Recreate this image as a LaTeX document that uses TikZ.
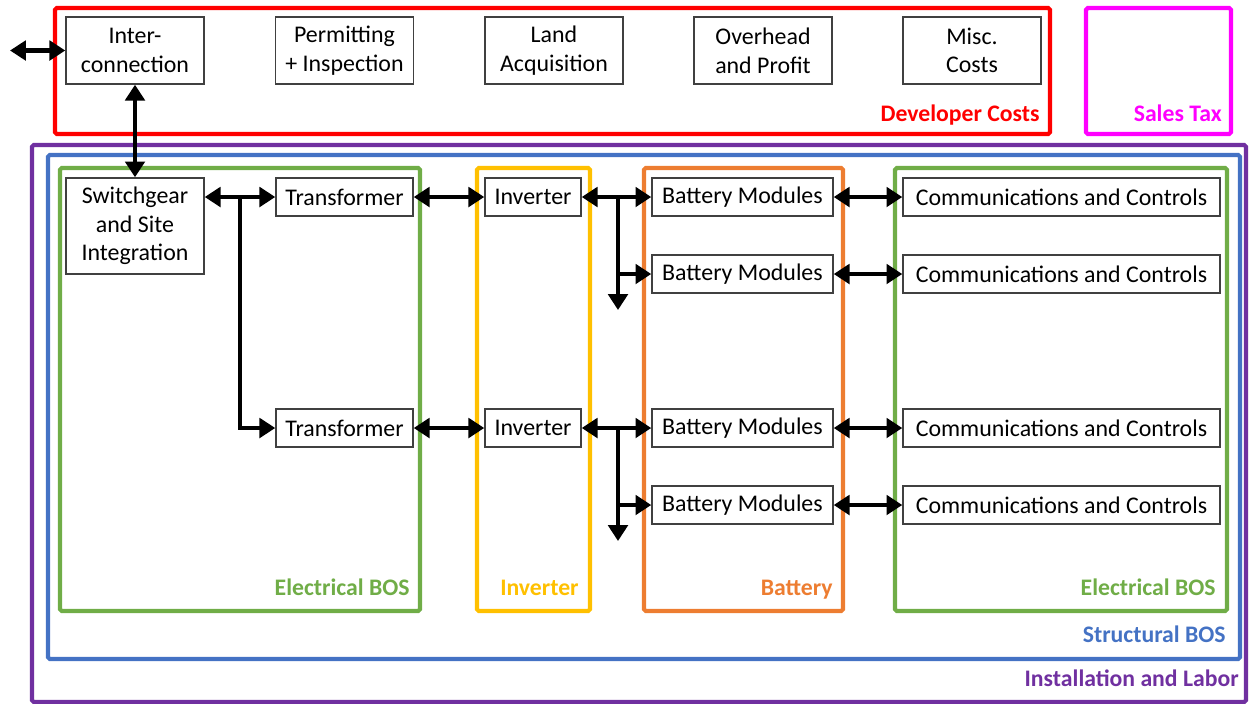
\documentclass[tikz,border=0pt]{standalone}
\usepackage{fontspec}
\setmainfont{Carlito}
\usetikzlibrary{arrows.meta}

\definecolor{devred}{HTML}{FF0000}
\definecolor{taxpink}{HTML}{FF00FF}
\definecolor{labpurple}{HTML}{7030A0}
\definecolor{strblue}{HTML}{4472C4}
\definecolor{elgreen}{HTML}{70AD47}
\definecolor{invyellow}{HTML}{FFC000}
\definecolor{batorange}{HTML}{ED7D31}

\tikzset{
  blk/.style={draw=black!75, line width=0.8pt, fill=white, inner sep=0pt,
    align=center, font=\fontsize{13.6}{16.3}\selectfont},
  topblk/.style={blk, minimum width=2.76cm, minimum height=1.34cm},
  frm/.style={line width=2.4pt, rounded corners=1pt},
  lbl/.style={font=\bfseries\fontsize{13.5}{15}\selectfont, anchor=base east, inner sep=0pt},
  link/.style={line width=2.4pt, {Triangle[length=9pt,width=11pt]}-{Triangle[length=9pt,width=11pt]}},
  feed/.style={line width=2.4pt, -{Triangle[length=9pt,width=11pt]}},
}

\begin{document}
\begin{tikzpicture}[x=0.02cm,y=-0.02cm]
\useasboundingbox (0,0) rectangle (1249,704);

% cost groups
\draw[frm, devred] (55,8) rectangle (1050,134);
\draw[frm, taxpink] (1086,8) rectangle (1231,134);
\draw[frm, labpurple] (32,145) rectangle (1246,702);
\draw[frm, strblue] (48,155) rectangle (1240,659);
\draw[frm, elgreen] (60,168) rectangle (420,611);
\draw[frm, invyellow] (477,168) rectangle (590,611);
\draw[frm, batorange] (644,168) rectangle (843,611);
\draw[frm, elgreen] (895,168) rectangle (1227,611);

\node[lbl, devred] (devlbl) at (1040,121) {Developer Costs};
\node[lbl, taxpink] (taxlbl) at (1222,121) {Sales Tax};
\node[lbl, elgreen] (elbl1) at (410,595) {Electrical BOS};
\node[lbl, invyellow] (invlbl) at (579,595) {Inverter};
\node[lbl, batorange] (batlbl) at (833,595) {Battery};
\node[lbl, elgreen] (elbl2) at (1216,595) {Electrical BOS};
\node[lbl, strblue] (strlbl) at (1226,642) {Structural BOS};
\node[lbl, labpurple] (lablbl) at (1239,686) {Installation and Labor};

% developer items
\node[topblk] (ic) at (135,50.5) {Inter-\\connection};
\node[topblk] (permit) at (344.5,50.5) {Permitting\\+ Inspection};
\node[topblk] (land) at (554,50.5) {Land\\Acquisition};
\node[topblk] (ovh) at (763,50.5) {Overhead\\and Profit};
\node[topblk] (misc) at (972,50.5) {Misc.\\Costs};

% equipment
\node[blk, minimum width=2.76cm, minimum height=1.92cm] (sg) at (135,226) {Switchgear\\and Site\\Integration};
\node[blk, minimum width=2.74cm, minimum height=0.76cm] (tr1) at (344.5,197) {Transformer};
\node[blk, minimum width=2.74cm, minimum height=0.76cm] (tr2) at (344.5,428) {Transformer};
\node[blk, minimum width=1.92cm, minimum height=0.76cm] (inv1) at (533,197) {Inverter};
\node[blk, minimum width=1.92cm, minimum height=0.76cm] (inv2) at (533,428) {Inverter};
\foreach \i/\y in {1/197,2/274,3/428,4/505}{
  \node[blk, minimum width=3.62cm, minimum height=0.76cm] (bm\i) at (742.5,\y) {Battery Modules};
  \node[blk, minimum width=6.34cm, minimum height=0.76cm] (cc\i) at (1061.5,\y) {Communications and Controls};
}

% connections
\coordinate (grid) at (10,50.5);
\coordinate (j1) at (240,197);
\coordinate (j2) at (618,197);
\coordinate (j3) at (618,428);
\coordinate (e1) at (618,310);
\coordinate (e2) at (618,541);

\draw[link] (grid) -- (ic.west);
\draw[link] (ic.south) -- (sg.north);
\draw[link] (sg.east |- tr1) -- (tr1.west);
\draw[feed] (j1) |- (tr2.west);
\draw[link] (tr1) -- (inv1);
\draw[link] (tr2) -- (inv2);
\draw[link] (inv1) -- (bm1);
\draw[link] (inv2) -- (bm3);
\draw[feed] (j2) -- (e1);
\draw[feed] (j3) -- (e2);
\draw[feed] (j2 |- bm2) -- (bm2.west);
\draw[feed] (j3 |- bm4) -- (bm4.west);
\foreach \i in {1,...,4}
  \draw[link] (bm\i) -- (cc\i);
\end{tikzpicture}
\end{document}
